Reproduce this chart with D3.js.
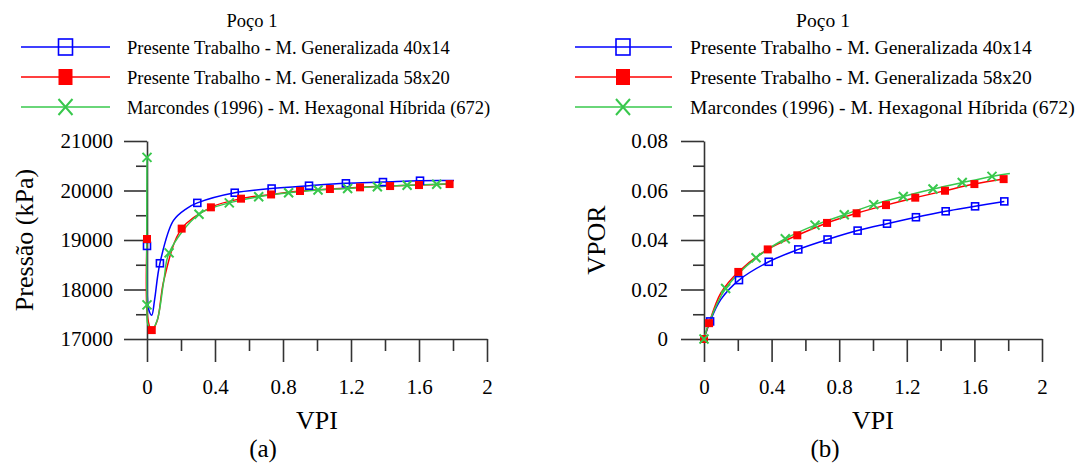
<!DOCTYPE html>
<html>
<head>
<meta charset="utf-8">
<script src="https://cdn.jsdelivr.net/npm/d3@7"></script>
<style>
  body { margin: 0; background: #fff; }
  text { font-family: 'Liberation Serif', serif; fill: #000; }
</style>
</head>
<body>
<div id="chart"></div>
<script>
// series labels
const seriesNames = [
  'Presente Trabalho - M. Generalizada 40x14',
  'Presente Trabalho - M. Generalizada 58x20',
  'Marcondes (1996) - M. Hexagonal Híbrida (672)'
];
const legendTitle = 'Poço 1';

// (a) pressure - lines
const presBlueVpi = [0, 0.01, 0.028, 0.045, 0.076, 0.155, 0.235, 0.296, 0.516, 0.733, 0.953, 1.17, 1.388, 1.606, 1.806];
const presBlue    = [18880, 17600, 17480, 17800, 18530, 19390, 19640, 19750, 19955, 20040, 20097, 20145, 20170, 20198, 20200];
const presRedVpi  = [0, 0.005, 0.028, 0.06, 0.1, 0.204, 0.376, 0.553, 0.73, 0.9, 1.076, 1.253, 1.43, 1.6, 1.78];
const presRed     = [19020, 17400, 17180, 17370, 18200, 19230, 19660, 19835, 19920, 19990, 20030, 20064, 20090, 20110, 20130];
const presGreenVpi = [0, 0, 0.005, 0.028, 0.06, 0.1, 0.13, 0.306, 0.484, 0.657, 0.833, 1.006, 1.18, 1.355, 1.53, 1.704, 1.8];
const presGreen    = [20670, 17690, 17300, 17190, 17380, 18200, 18740, 19520, 19750, 19875, 19955, 20010, 20040, 20077, 20105, 20125, 20137];
// (a) pressure - markers
const presBlueMkVpi = [0, 0.076, 0.296, 0.516, 0.733, 0.953, 1.17, 1.388, 1.606];
const presBlueMk    = [18880, 18530, 19750, 19955, 20040, 20097, 20145, 20170, 20198];
const presRedMkVpi  = [0, 0.028, 0.204, 0.376, 0.553, 0.73, 0.9, 1.076, 1.253, 1.43, 1.6, 1.78];
const presRedMk     = [19020, 17180, 19230, 19660, 19835, 19920, 19990, 20030, 20064, 20090, 20110, 20130];
const presGreenMkVpi = [0, 0, 0.13, 0.306, 0.484, 0.657, 0.833, 1.006, 1.18, 1.355, 1.53, 1.704];
const presGreenMk    = [20670, 17690, 18740, 19520, 19750, 19875, 19955, 20010, 20040, 20077, 20105, 20125];

// (b) VPOR - lines
const vporBlueVpi = [0, 0.036, 0.1, 0.207, 0.383, 0.558, 0.731, 0.909, 1.083, 1.254, 1.43, 1.604, 1.777];
const vporBlue    = [0, 0.0071, 0.016, 0.0238, 0.0312, 0.0362, 0.0402, 0.0438, 0.0466, 0.0492, 0.0516, 0.0536, 0.0556];
const vporRedVpi  = [0, 0.03, 0.1, 0.203, 0.377, 0.552, 0.728, 0.903, 1.077, 1.25, 1.426, 1.6, 1.773];
const vporRed     = [0, 0.0064, 0.0186, 0.0271, 0.0362, 0.0419, 0.0469, 0.0508, 0.0541, 0.0571, 0.0599, 0.0626, 0.0646];
const vporGreenVpi = [0, 0.03, 0.128, 0.308, 0.481, 0.657, 0.83, 1.004, 1.179, 1.355, 1.528, 1.704, 1.81];
const vporGreen    = [0, 0.0066, 0.0204, 0.0328, 0.0405, 0.046, 0.0502, 0.0543, 0.0576, 0.0606, 0.0632, 0.0657, 0.0669];
// (b) VPOR - markers
const vporBlueMkVpi = [0.036, 0.207, 0.383, 0.558, 0.731, 0.909, 1.083, 1.254, 1.43, 1.604, 1.777];
const vporBlueMk    = [0.0071, 0.0238, 0.0312, 0.0362, 0.0402, 0.0438, 0.0466, 0.0492, 0.0516, 0.0536, 0.0556];
const vporRedMkVpi  = [0, 0.03, 0.203, 0.377, 0.552, 0.728, 0.903, 1.077, 1.25, 1.426, 1.6, 1.773];
const vporRedMk     = [0, 0.0064, 0.0271, 0.0362, 0.0419, 0.0469, 0.0508, 0.0541, 0.0571, 0.0599, 0.0626, 0.0646];
const vporGreenMkVpi = [0, 0.128, 0.308, 0.481, 0.657, 0.83, 1.004, 1.179, 1.355, 1.528, 1.704];
const vporGreenMk    = [0, 0.0204, 0.0328, 0.0405, 0.046, 0.0502, 0.0543, 0.0576, 0.0606, 0.0632, 0.0657];

// ticks
const xTicks = [0, 0.4, 0.8, 1.2, 1.6, 2];
const xMinor = [0.2, 0.6, 1.0, 1.4, 1.8];
const presTicks = [17000, 18000, 19000, 20000, 21000];
const presMinor = [17500, 18500, 19500, 20500];
const vporTicks = [0, 0.02, 0.04, 0.06, 0.08];
const vporMinor = [0.01, 0.03, 0.05, 0.07];

const colors = ['#0000ff', '#ff0000', '#38c84c'];
const axisColor = '#333';
const serif = 'Liberation Serif, Times New Roman, serif';

const svg = d3.select('#chart').append('svg')
  .attr('width', 1087)
  .attr('height', 464)
  .attr('font-family', serif);

const zip = (xs, ys) => xs.map((x, i) => [x, ys[i]]);

// marker shapes
function drawMarker(g, kind, x, y, w, h) {
  if (kind === 0) {
    g.append('rect').attr('x', x - w / 2).attr('y', y - h / 2)
      .attr('width', w).attr('height', h)
      .attr('fill', 'none').attr('stroke', colors[0]).attr('stroke-width', 1.6);
  } else if (kind === 1) {
    g.append('rect').attr('x', x - w / 2).attr('y', y - h / 2)
      .attr('width', w).attr('height', h)
      .attr('fill', colors[1]);
  } else {
    g.append('path')
      .attr('d', `M${x - w / 2},${y - h / 2}L${x + w / 2},${y + h / 2}M${x - w / 2},${y + h / 2}L${x + w / 2},${y - h / 2}`)
      .attr('stroke', colors[2]).attr('stroke-width', 2).attr('fill', 'none');
  }
}

function drawPanel(p) {
  const x = d3.scaleLinear().domain([0, 2]).range([p.left, p.right]);
  const y = d3.scaleLinear().domain(p.yDomain).range([p.bottom, p.top]);
  const g = svg.append('g');

  // minor ticks
  g.append('g').attr('transform', `translate(0,${p.bottom})`)
    .call(d3.axisBottom(x).tickValues(xMinor).tickSize(12).tickFormat(''))
    .call(a => a.select('.domain').remove());
  g.append('g').attr('transform', `translate(${p.left},0)`)
    .call(d3.axisLeft(y).tickValues(p.yMinor).tickSize(11).tickFormat(''))
    .call(a => a.select('.domain').remove());

  // major axes
  g.append('g').attr('transform', `translate(0,${p.bottom})`)
    .call(d3.axisBottom(x).tickValues(xTicks).tickSizeInner(23).tickSizeOuter(0)
      .tickPadding(17).tickFormat(d3.format('~g')))
    .attr('font-family', serif).attr('font-size', 21);
  g.append('g').attr('transform', `translate(${p.left},0)`)
    .call(d3.axisLeft(y).tickValues(p.yTicks).tickSizeInner(23).tickSizeOuter(0)
      .tickPadding(p.yPad).tickFormat(p.yFormat))
    .attr('font-family', serif).attr('font-size', 21);

  g.selectAll('.domain, .tick line').attr('stroke', axisColor).attr('stroke-width', 1.6);
  g.selectAll('.tick text').attr('fill', '#000');

  // lines
  const line = d3.line()
    .x(d => x(d[0])).y(d => y(d[1]))
    .curve(d3.curveCatmullRom.alpha(0.5));
  p.lines.forEach((pts, i) => {
    g.append('path').datum(pts)
      .attr('d', line)
      .attr('fill', 'none')
      .attr('stroke', colors[i])
      .attr('stroke-width', 1.5);
  });

  // markers
  const mk = g.append('g');
  p.marks.forEach((pts, i) => {
    const size = [7, 8, 9][i];
    pts.forEach(d => drawMarker(mk, i, x(d[0]), y(d[1]), size, size));
  });

  // titles
  g.append('text')
    .attr('x', (p.left + p.right) / 2).attr('y', 429)
    .attr('text-anchor', 'middle').attr('font-size', 26)
    .text('VPI');
  g.append('text')
    .attr('transform', `translate(${p.yTitleX},240) rotate(-90)`)
    .attr('text-anchor', 'middle').attr('font-size', 26)
    .text(p.yTitle);
  g.append('text')
    .attr('x', p.tagX).attr('y', 457)
    .attr('text-anchor', 'middle').attr('font-size', 25)
    .text(p.tag);
}

function drawLegend(l) {
  const g = svg.append('g');
  g.append('text')
    .attr('x', l.titleX).attr('y', 27)
    .attr('text-anchor', 'middle').attr('font-size', l.font)
    .text(legendTitle);
  seriesNames.forEach((name, i) => {
    const cy = 47 + i * 30;
    g.append('line')
      .attr('x1', l.x1).attr('x2', l.x2).attr('y1', cy).attr('y2', cy)
      .attr('stroke', colors[i]).attr('stroke-width', 1.5);
    drawMarker(g, i, l.mx, cy, 14, 16);
    g.append('text')
      .attr('x', l.tx).attr('y', cy + 7)
      .attr('font-size', l.font)
      .text(name);
  });
}

drawPanel({
  left: 147, right: 487, top: 141, bottom: 339,
  yDomain: [17000, 21000], yTicks: presTicks, yMinor: presMinor,
  yFormat: d3.format('d'), yPad: 11,
  yTitle: 'Pressão (kPa)', yTitleX: 33, tag: '(a)', tagX: 263,
  lines: [zip(presBlueVpi, presBlue), zip(presRedVpi, presRed), zip(presGreenVpi, presGreen)],
  marks: [zip(presBlueMkVpi, presBlueMk), zip(presRedMkVpi, presRedMk), zip(presGreenMkVpi, presGreenMk)]
});

drawPanel({
  left: 704, right: 1042, top: 141, bottom: 339,
  yDomain: [0, 0.08], yTicks: vporTicks, yMinor: vporMinor,
  yFormat: d3.format('~g'), yPad: 13,
  yTitle: 'VPOR', yTitleX: 605, tag: '(b)', tagX: 825,
  lines: [zip(vporBlueVpi, vporBlue), zip(vporRedVpi, vporRed), zip(vporGreenVpi, vporGreen)],
  marks: [zip(vporBlueMkVpi, vporBlueMk), zip(vporRedMkVpi, vporRedMk), zip(vporGreenMkVpi, vporGreenMk)]
});

drawLegend({ titleX: 252, x1: 21, x2: 110, mx: 65.5, tx: 127, font: 18.5 });
drawLegend({ titleX: 823, x1: 575, x2: 672, mx: 623, tx: 690, font: 19.6 });
</script>
</body>
</html>
